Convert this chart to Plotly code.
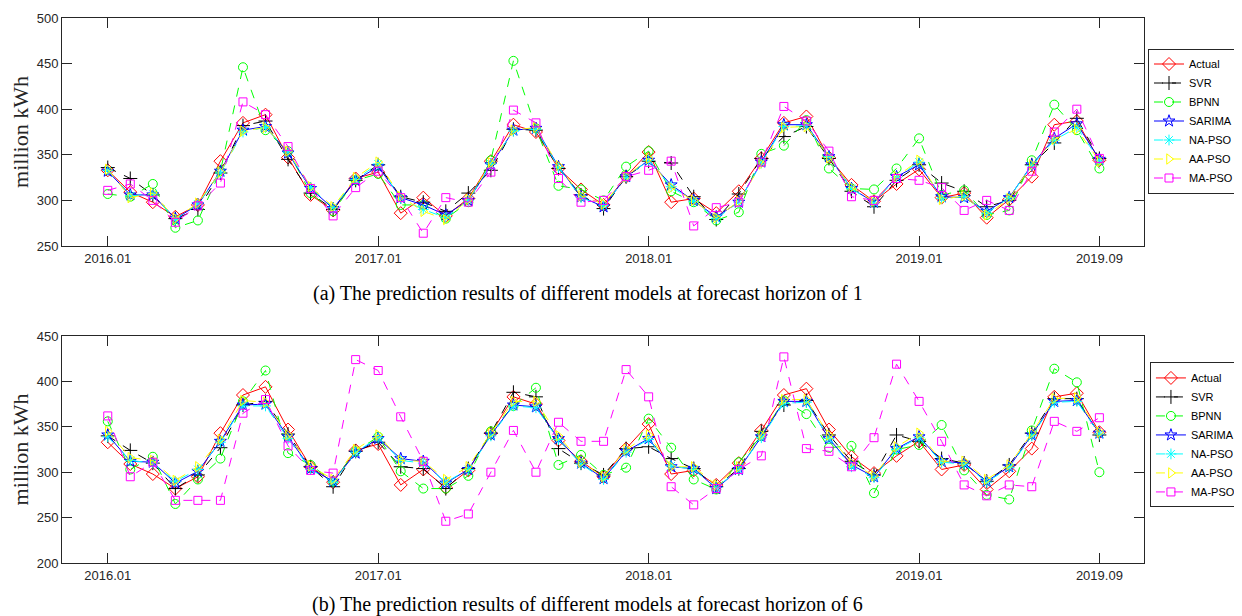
import plotly.graph_objects as go

months = [f"{y}.{m:02d}" for y in (2016, 2017, 2018, 2019) for m in range(1, 13)][:45]
tick_labels = ["2016.01", "2017.01", "2018.01", "2019.01", "2019.09"]

actual = [333, 309, 298, 282, 295, 343, 385, 394, 347, 306, 289, 324, 331, 286, 303, 283, 302, 343, 383, 375,
          335, 312, 295, 326, 353, 298, 302, 286, 310, 346, 385, 392, 347, 317, 299, 318, 334, 303, 308, 281,
          301, 326, 383, 387, 344]

# horizon 1
svr_1 = [336, 324, 306, 280, 290, 330, 382, 387, 345, 308, 290, 322, 339, 304, 298, 288, 308, 333, 378, 377,
         335, 306, 291, 326, 343, 341, 304, 279, 307, 346, 370, 381, 346, 310, 293, 322, 339, 319, 310, 293,
         300, 339, 363, 390, 346]
bpnn_1 = [307, 304, 318, 270, 278, 332, 446, 377, 354, 308, 288, 322, 329, 295, 295, 280, 298, 344, 453, 379,
          316, 312, 300, 337, 354, 310, 298, 278, 287, 351, 360, 388, 335, 313, 312, 335, 368, 306, 311, 284,
          289, 344, 405, 377, 335]
sarima_1 = [332, 306, 306, 280, 295, 332, 377, 381, 352, 313, 291, 322, 337, 303, 295, 284, 300, 339, 377, 379,
            337, 304, 293, 326, 344, 317, 300, 282, 298, 342, 383, 383, 348, 313, 298, 326, 339, 304, 303, 288,
            303, 339, 368, 384, 345]
napso_1 = [333, 305, 307, 279, 296, 330, 375, 380, 353, 314, 292, 323, 340, 302, 290, 281, 300, 340, 376, 378,
           336, 303, 294, 325, 344, 315, 299, 280, 298, 341, 381, 382, 348, 313, 297, 325, 342, 302, 304, 286,
           303, 338, 366, 380, 344]
aapso_1 = [334, 303, 308, 280, 297, 331, 376, 380, 354, 315, 293, 325, 342, 304, 288, 279, 301, 341, 377, 380,
           338, 305, 296, 326, 346, 314, 300, 281, 299, 340, 380, 381, 347, 314, 299, 326, 344, 301, 305, 284,
           302, 339, 367, 378, 343]
mapso_1 = [311, 318, 300, 276, 294, 319, 408, 394, 359, 313, 283, 314, 332, 303, 264, 303, 298, 331, 399, 385,
           324, 298, 300, 326, 333, 343, 272, 292, 298, 342, 403, 387, 354, 304, 300, 324, 322, 314, 289, 300,
           289, 332, 375, 400, 346]

# horizon 6
svr_6 = [340, 324, 310, 282, 297, 327, 374, 378, 342, 306, 284, 323, 333, 306, 304, 282, 304, 343, 388, 383,
         326, 310, 297, 326, 328, 315, 304, 284, 304, 345, 374, 379, 341, 312, 297, 341, 334, 315, 310, 290,
         308, 343, 381, 381, 341]
bpnn_6 = [356, 303, 317, 265, 292, 315, 378, 412, 321, 308, 290, 323, 339, 301, 282, 282, 296, 345, 373, 393,
          308, 319, 297, 305, 359, 327, 292, 281, 311, 340, 379, 364, 327, 329, 277, 325, 330, 352, 302, 275,
          270, 346, 414, 399, 300]
sarima_6 = [341, 312, 311, 288, 301, 334, 374, 375, 339, 304, 290, 321, 337, 315, 312, 288, 303, 341, 374, 372,
            337, 310, 293, 323, 337, 306, 304, 282, 303, 339, 378, 378, 337, 308, 295, 326, 339, 312, 310, 290,
            306, 341, 378, 379, 343]
napso_6 = [339, 313, 310, 290, 303, 333, 373, 373, 337, 303, 289, 322, 338, 313, 310, 289, 303, 340, 373, 371,
           336, 309, 292, 322, 336, 307, 303, 283, 303, 338, 376, 377, 337, 306, 294, 325, 338, 311, 309, 289,
           305, 340, 377, 378, 342]
aapso_6 = [345, 316, 313, 291, 306, 336, 379, 377, 341, 307, 292, 325, 341, 313, 312, 292, 306, 343, 378, 378,
           340, 311, 295, 325, 341, 306, 306, 286, 306, 341, 380, 380, 341, 310, 296, 328, 343, 312, 312, 292,
           308, 343, 381, 382, 344]
mapso_6 = [362, 295, 311, 269, 269, 269, 365, 380, 329, 302, 299, 424, 412, 361, 312, 246, 254, 300, 346, 300,
           355, 334, 334, 413, 383, 284, 264, 282, 303, 318, 427, 326, 323, 306, 338, 419, 378, 334, 286, 274,
           286, 284, 356, 345, 360]

names = ["Actual", "SVR", "BPNN", "SARIMA", "NA-PSO", "AA-PSO", "MA-PSO"]
colors = ["#FF0000", "#000000", "#00FF00", "#0000FF", "#00FFFF", "#FFFF00", "#FF00FF"]
symbols = ["diamond-open", "cross-thin-open", "circle-open", "star-open", "asterisk-open",
           "triangle-right-open", "square-open"]
dashes = ["solid", "dash", "dash", "solid", "dash", "dash", "dash"]
sizes = [10, 10, 9, 9, 9, 9, 8]

panel1 = [actual, svr_1, bpnn_1, sarima_1, napso_1, aapso_1, mapso_1]
panel6 = [actual, svr_6, bpnn_6, sarima_6, napso_6, aapso_6, mapso_6]

fig = go.Figure()
for p, (series, xa, ya, lg) in enumerate([(panel1, "x", "y", "legend"), (panel6, "x2", "y2", "legend2")]):
    for k, vals in enumerate(series):
        fig.add_trace(go.Scatter(
            x=months, y=vals, name=names[k], mode="lines+markers",
            xaxis=xa, yaxis=ya, legend=lg,
            line=dict(color=colors[k], width=1, dash=dashes[k]),
            marker=dict(symbol=symbols[k], size=sizes[k], color=colors[k],
                        line=dict(color=colors[k], width=1)),
        ))

axis_common = dict(showline=True, linecolor="#262626", linewidth=1, mirror="ticks",
                   ticks="inside", ticklen=10, tickcolor="#262626", showgrid=False, zeroline=False,
                   tickfont=dict(family="Liberation Sans, Arial", size=13, color="#262626"))

ytitle_font = dict(family="Liberation Serif, Times New Roman", size=22, color="#262626")
cap_font = dict(family="Liberation Serif, Times New Roman", size=20, color="#000000")
leg_font = dict(family="Liberation Sans, Arial", size=11, color="#000000")

xrange = [-2.03, 45.98]
fig.update_layout(
    width=1242, height=616,
    margin=dict(l=54, r=106, t=10, b=61, autoexpand=False),
    plot_bgcolor="white", paper_bgcolor="white",
    xaxis=dict(domain=[0, 1], anchor="y", type="category", range=xrange,
               tickmode="array", tickvals=tick_labels, ticktext=tick_labels, **axis_common),
    yaxis=dict(domain=[0.5817, 1.0], anchor="x", range=[250, 500], dtick=50,
               title=dict(text="million kWh", standoff=3, font=ytitle_font), **axis_common),
    xaxis2=dict(domain=[0, 1], anchor="y2", type="category", range=xrange,
                tickmode="array", tickvals=tick_labels, ticktext=tick_labels, **axis_common),
    yaxis2=dict(domain=[0, 0.4165], anchor="x2", range=[200, 450], dtick=50,
                title=dict(text="million kWh", standoff=3, font=ytitle_font), **axis_common),
    legend=dict(x=1.0037, y=0.811, xanchor="left", yanchor="middle", bgcolor="white",
                bordercolor="#262626", borderwidth=1, font=leg_font, tracegroupgap=0),
    legend2=dict(x=1.0055, y=0.235, xanchor="left", yanchor="middle", bgcolor="white",
                 bordercolor="#262626", borderwidth=1, font=leg_font, tracegroupgap=0),
    annotations=[
        dict(text="(a) The prediction results of different models at forecast horizon of 1",
             xref="paper", yref="paper", x=0.486, y=0.4936, xanchor="center", yanchor="middle",
             showarrow=False, font=cap_font),
        dict(text="(b) The prediction results of different models at forecast horizon of 6",
             xref="paper", yref="paper", x=0.486, y=-0.077, xanchor="center", yanchor="middle",
             showarrow=False, font=cap_font),
    ],
)

fig.write_html("out.html")
